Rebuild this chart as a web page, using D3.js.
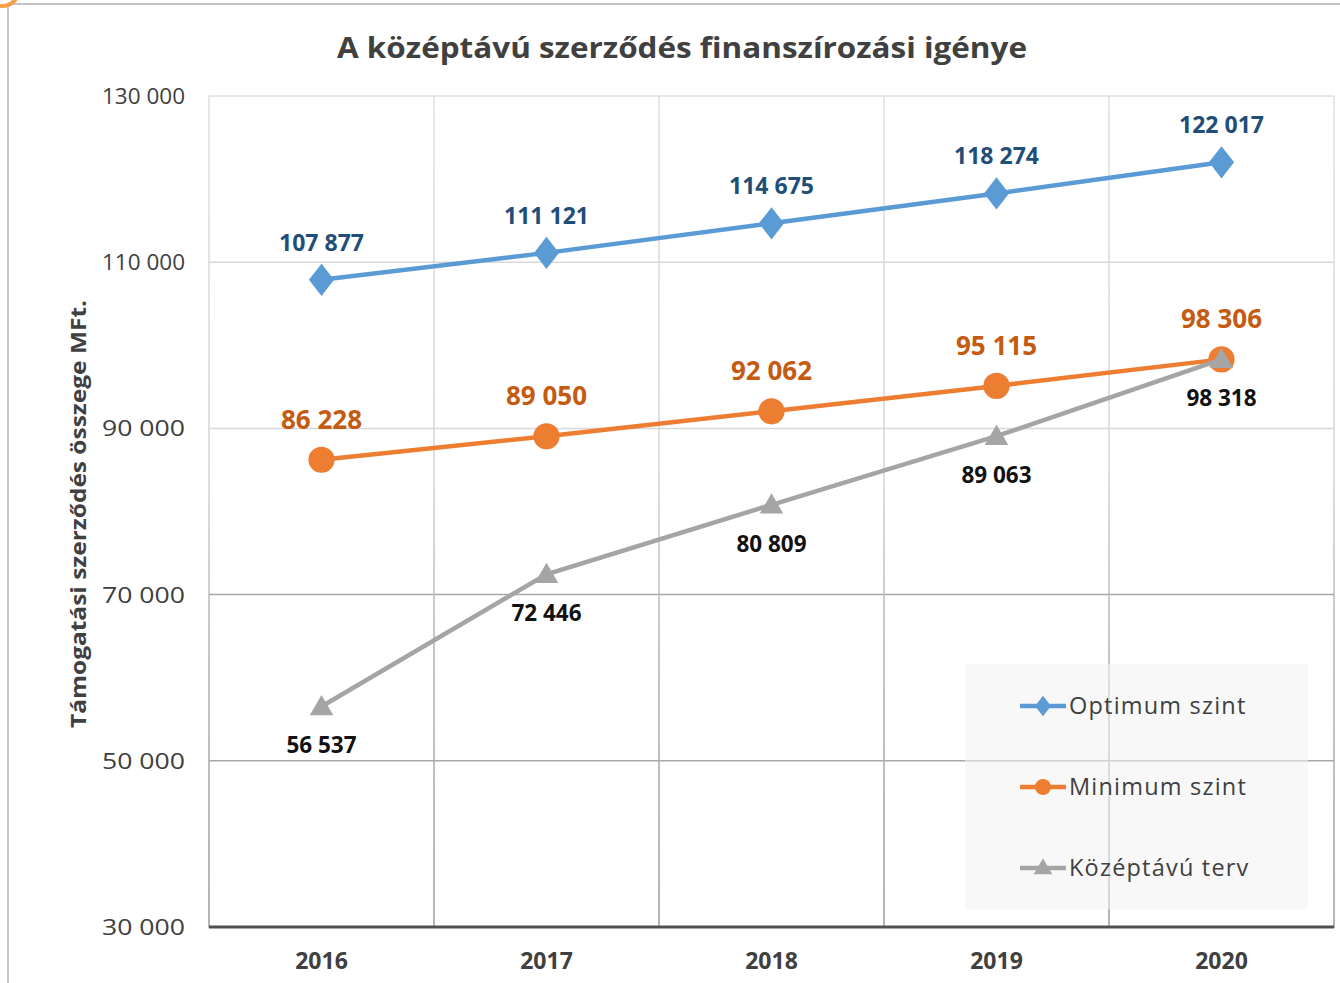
<!DOCTYPE html>
<html>
<head>
<meta charset="utf-8">
<script src="https://cdn.jsdelivr.net/npm/d3@7"></script>
<style>
  body { margin: 0; background: #fff; }
  svg { display: block; font-family: "Open Sans", sans-serif; }
</style>
</head>
<body>
<div id="chart"></div>
<script>
const years = ["2016", "2017", "2018", "2019", "2020"];
const optimum = [107877, 111121, 114675, 118274, 122017];
const minimum = [86228, 89050, 92062, 95115, 98306];
const terv = [56537, 72446, 80809, 89063, 98318];
const yTicks = [30000, 50000, 70000, 90000, 110000, 130000];
const seriesNames = ["Optimum szint", "Minimum szint", "Középtávú terv"];

const width = 1340, height = 983;
const margin = { t: 96, l: 209, r: 6, b: 56 };

const svg = d3.select("#chart").append("svg")
  .attr("width", width)
  .attr("height", height);

// outer chart frame + selection handle
svg.append("path")
  .attr("d", "M8," + height + "V4H" + width)
  .attr("fill", "none").attr("stroke", "#c4c4c4").attr("stroke-width", 2);
svg.append("circle")
  .attr("cx", 2).attr("cy", -11).attr("r", 17)
  .attr("fill", "none").attr("stroke", "#f5a04a").attr("stroke-width", 4);

const x = d3.scaleBand()
  .domain(years)
  .range([margin.l, width - margin.r]);

const y = d3.scaleLinear()
  .domain([30000, 130000])
  .range([height - margin.b, margin.t]);

const fmt = v => d3.format(",")(v).replace(/,/g, " ");

// gridline colour darkens towards bottom
const grad = svg.append("defs").append("linearGradient")
  .attr("id", "gridGrad")
  .attr("gradientUnits", "userSpaceOnUse")
  .attr("x1", 0).attr("y1", y(130000)).attr("x2", 0).attr("y2", y(30000));
grad.append("stop").attr("offset", "0%").attr("stop-color", "#e0e0e0");
grad.append("stop").attr("offset", "45%").attr("stop-color", "#d4d4d4");
grad.append("stop").attr("offset", "65%").attr("stop-color", "#b4b4b4");
grad.append("stop").attr("offset", "100%").attr("stop-color", "#9c9c9c");

// plot border
svg.append("rect")
  .attr("x", margin.l).attr("y", y(130000))
  .attr("width", width - margin.r - margin.l)
  .attr("height", y(30000) - y(130000))
  .attr("fill", "none").attr("stroke", "url(#gridGrad)").attr("stroke-width", 1.5);

const grid = svg.append("g");
grid.selectAll("line.h")
  .data(yTicks.slice(1, -1))
  .enter().append("line")
  .attr("x1", margin.l).attr("x2", width - margin.r)
  .attr("y1", d => y(d)).attr("y2", d => y(d))
  .attr("stroke", d => d <= 70000 ? "#a8a8a8" : "#d8d8d8")
  .attr("stroke-width", 1.5);
grid.selectAll("line.v")
  .data(years.slice(1))
  .enter().append("line")
  .attr("x1", d => x(d)).attr("x2", d => x(d))
  .attr("y1", y(130000)).attr("y2", y(30000))
  .attr("stroke", "url(#gridGrad)")
  .attr("stroke-width", 1.5);

// y tick labels
svg.append("g")
  .selectAll("text")
  .data(yTicks)
  .enter().append("text")
  .attr("x", 185)
  .attr("y", d => y(d) + 8)
  .attr("text-anchor", "end")
  .attr("fill", "#404040")
  .attr("font-size", 22)
  .attr("textLength", 83)
  .attr("lengthAdjust", "spacingAndGlyphs")
  .text(fmt);

// x axis
svg.append("line")
  .attr("x1", margin.l).attr("x2", width - margin.r)
  .attr("y1", y(30000)).attr("y2", y(30000))
  .attr("stroke", "#505050").attr("stroke-width", 3);

svg.append("g")
  .selectAll("text")
  .data(years)
  .enter().append("text")
  .attr("x", d => x(d) + x.bandwidth() / 2)
  .attr("y", 969)
  .attr("text-anchor", "middle")
  .attr("fill", "#404040")
  .attr("font-size", 23)
  .attr("font-weight", "bold")
  .text(d => d);

// title
svg.append("text")
  .attr("x", 682).attr("y", 58)
  .attr("text-anchor", "middle")
  .attr("fill", "#404040")
  .attr("font-size", 29)
  .attr("font-weight", "bold")
  .attr("textLength", 690)
  .attr("lengthAdjust", "spacingAndGlyphs")
  .text("A középtávú szerződés finanszírozási igénye");

// y axis title
svg.append("text")
  .attr("transform", "translate(86,514) rotate(-90)")
  .attr("text-anchor", "middle")
  .attr("fill", "#404040")
  .attr("font-size", 21)
  .attr("font-weight", "bold")
  .attr("textLength", 428)
  .attr("lengthAdjust", "spacingAndGlyphs")
  .text("Támogatási szerződés összege MFt.");

const series = [
  { name: seriesNames[0], values: optimum, color: "#5b9bd5", label: "#1f4e79", symbol: d3.symbolDiamond, size: 300, dy: -29, fs: 23 },
  { name: seriesNames[1], values: minimum, color: "#ed7d31", label: "#c55a11", symbol: d3.symbolCircle, size: 540, dy: -31, fs: 26 },
  { name: seriesNames[2], values: terv, color: "#a5a5a5", label: "#111111", symbol: d3.symbolTriangle, size: 240, dy: 47, fs: 22.5 }
];

const cx = i => x(years[i]) + x.bandwidth() / 2;
const line = d3.line().x((d, i) => cx(i)).y(d => y(d));

series.forEach(s => {
  const g = svg.append("g");
  g.append("path")
    .datum(s.values)
    .attr("d", line)
    .attr("fill", "none")
    .attr("stroke", s.color)
    .attr("stroke-width", 4.5);
  g.selectAll("path.m")
    .data(s.values)
    .enter().append("path")
    .attr("transform", (d, i) => "translate(" + cx(i) + "," + (y(d) + (s.symbol === d3.symbolTriangle ? 2 : 0)) + ")" + (s.symbol === d3.symbolDiamond ? " scale(1.35,1)" : ""))
    .attr("d", d3.symbol().type(s.symbol).size(s.size))
    .attr("fill", s.color);
  g.selectAll("text")
    .data(s.values)
    .enter().append("text")
    .attr("x", (d, i) => cx(i))
    .attr("y", d => y(d) + s.dy)
    .attr("text-anchor", "middle")
    .attr("fill", s.label)
    .attr("font-size", s.fs)
    .attr("font-weight", "bold")
    .text(fmt);
});

// legend
const lg = svg.append("g");
lg.append("rect")
  .attr("x", 965).attr("y", 664)
  .attr("width", 343).attr("height", 245)
  .attr("fill", "#f2f2f2").attr("fill-opacity", 0.55);
const items = lg.selectAll("g")
  .data(series)
  .enter().append("g")
  .attr("transform", (d, i) => "translate(1020," + (706 + i * 81) + ")");
items.append("line")
  .attr("x1", 0).attr("x2", 46)
  .attr("stroke", d => d.color).attr("stroke-width", 4.5);
items.append("path")
  .attr("transform", d => "translate(23," + (d.symbol === d3.symbolTriangle ? 1 : 0) + ")" + (d.symbol === d3.symbolDiamond ? " scale(1.35,1)" : ""))
  .attr("d", d => d3.symbol().type(d.symbol).size(d.symbol === d3.symbolCircle ? 200 : d.symbol === d3.symbolDiamond ? 120 : 150)())
  .attr("fill", d => d.color);
items.append("text")
  .attr("x", 49).attr("y", 8)
  .attr("fill", "#404040")
  .attr("font-size", 23.5)
  .attr("letter-spacing", 1.2)
  .text(d => d.name);
</script>
</body>
</html>
